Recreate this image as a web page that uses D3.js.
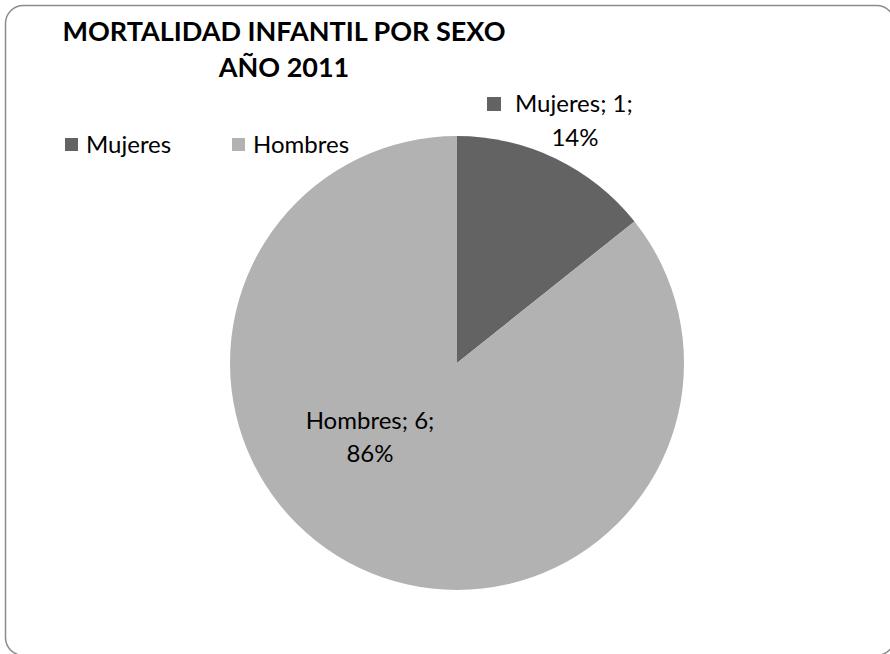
<!DOCTYPE html>
<html><head><meta charset="utf-8">
<script src="https://cdn.jsdelivr.net/npm/d3@7"></script>
<style>body{margin:0;background:#fff}svg{display:block}text{font-family:Lato,"Open Sans",sans-serif}</style>
</head><body><svg id="c" width="890" height="654"></svg>
<script>
const titleLines = ["MORTALIDAD INFANTIL POR SEXO", "AÑO 2011"];
const categories = ["Mujeres", "Hombres"];
const values = [1, 6];
const percentLabels = ["14%", "86%"];
const colors = ["#636363", "#b2b2b2"];

const svg = d3.select("#c");
svg.append("rect").attr("x", 5.5).attr("y", 5.5).attr("width", 889).attr("height", 650)
  .attr("rx", 18).attr("fill", "#fff").attr("stroke", "#8c8c8c").attr("stroke-width", 1.5);

const title = svg.append("text").attr("text-anchor", "middle").attr("font-weight", "bold")
  .attr("font-size", 27).attr("fill", "#000");
titleLines.forEach((t, i) => title.append("tspan").attr("x", 284).attr("y", 41 + i * 36).text(t));

const color = d3.scaleOrdinal().domain(categories).range(colors);

// legend
const legX = [65, 232];
categories.forEach((c, i) => {
  const g = svg.append("g").attr("transform", `translate(${legX[i]},138)`);
  g.append("rect").attr("width", 13).attr("height", 13).attr("fill", color(c));
  g.append("text").attr("x", 21).attr("y", 15).attr("font-size", 24).attr("fill", "#000").text(c);
});

const cx = 457, cy = 363, r = 227;
const pie = d3.pie().sort(null).value(d => d)(values);
const arc = d3.arc().innerRadius(0).outerRadius(r);
const g = svg.append("g").attr("transform", `translate(${cx},${cy})`);
g.selectAll("path").data(pie).join("path").attr("d", arc)
  .attr("fill", (d, i) => color(categories[i]));

// data labels
const lab0 = svg.append("g");
lab0.append("rect").attr("x", 487).attr("y", 97).attr("width", 14).attr("height", 14).attr("fill", color(categories[0]));
lab0.append("text").attr("x", 575).attr("y", 112).attr("text-anchor", "start").attr("font-size", 24)
  .attr("x", 515).text(`${categories[0]}; ${values[0]};`);
lab0.append("text").attr("x", 575).attr("y", 146).attr("text-anchor", "middle").attr("font-size", 24).text(percentLabels[0]);

const lab1 = svg.append("g");
lab1.append("text").attr("x", 370).attr("y", 429).attr("text-anchor", "middle").attr("font-size", 24).text(`${categories[1]}; ${values[1]};`);
lab1.append("text").attr("x", 370).attr("y", 462).attr("text-anchor", "middle").attr("font-size", 24).text(percentLabels[1]);
</script></body></html>
